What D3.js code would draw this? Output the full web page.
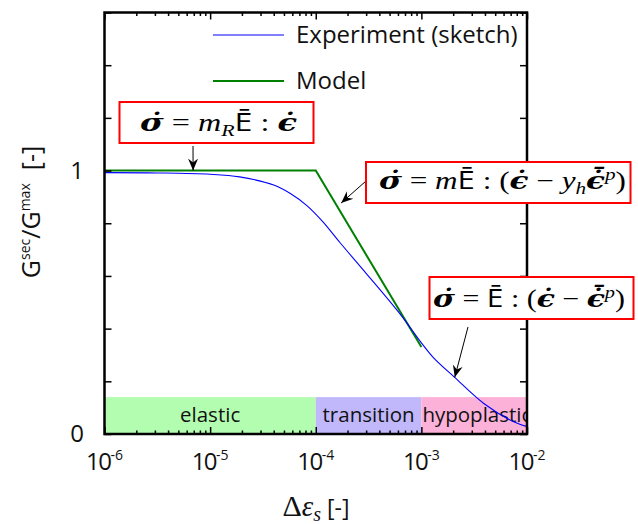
<!DOCTYPE html>
<html>
<head>
<meta charset="utf-8">
<script src="https://cdn.jsdelivr.net/npm/d3@7"></script>
<style>
  body { margin: 0; background: #fff; }
  text { white-space: pre; }
</style>
</head>
<body>
<script>
// axis ticks
var xMajor = [1e-6, 1e-5, 1e-4, 1e-3, 1e-2];
var xLabels = ["-6", "-5", "-4", "-3", "-2"];
var yTicks = [0, 0.2, 0.4, 0.6, 0.8, 1, 1.2, 1.4, 1.6];
var yLabels = [0, 1];

// experiment (sketch)
var expStrain = [1e-6, 3.16e-6, 1e-5, 1.9e-5, 4.0e-5, 5.75e-5, 8.3e-5, 1.17e-4, 1.7e-4, 3.0e-4, 6.3e-4, 1e-3, 1.32e-3, 2.04e-3, 3.9e-3, 7.4e-3, 1e-2];
var expRatio  = [0.992, 0.991, 0.986, 0.976, 0.945, 0.913, 0.866, 0.805, 0.726, 0.61, 0.455, 0.346, 0.287, 0.217, 0.116, 0.047, 0.028];

// model
var modelStrain = [1e-6, 1e-4, 1e-3];
var modelRatio  = [1, 1, 0.33];

// regions
var regionNames = ["elastic", "transition", "hypoplastic"];
var regionStart = [1e-6, 1e-4, 1e-3];
var regionEnd   = [1e-4, 1e-3, 1e-2];
var regionColors = ["#b3fdb0", "#c1b8fc", "#fcb1d9"];
var regionTop = 0.14;

var W = 638, H = 524;
var pLeft = 104.5, pRight = 527, pTop = 12.5, pBottom = 434;

var svg = d3.select("body").append("svg")
    .attr("width", W).attr("height", H);

var x = d3.scaleLog().domain([1e-6, 1e-2]).range([pLeft, pRight]);
var y = d3.scaleLinear().domain([0, 1.6]).range([pBottom, pTop]);

var sans = "'Open Sans', 'DejaVu Sans', sans-serif";
var serif = "'Liberation Serif', 'DejaVu Serif', serif";
var greek = "'DejaVu Serif', serif";

var defs = svg.append("defs");
defs.append("clipPath").attr("id", "plot")
  .append("rect").attr("x", pLeft).attr("y", pTop)
  .attr("width", pRight - pLeft).attr("height", pBottom - pTop);

// region bands
var bands = svg.append("g").attr("clip-path", "url(#plot)");
regionNames.forEach(function(name, i) {
  bands.append("rect")
    .attr("x", x(regionStart[i]))
    .attr("y", y(regionTop))
    .attr("width", x(regionEnd[i]) - x(regionStart[i]))
    .attr("height", y(0) - y(regionTop))
    .attr("fill", regionColors[i]);
});
regionNames.forEach(function(name, i) {
  var x0 = x(regionStart[i]), x1 = x(regionEnd[i]);
  var tx = i == 2 ? x0 + 1 : (x0 + x1) / 2;
  bands.append("text")
    .attr("x", tx)
    .attr("y", y(regionTop / 2) + 6)
    .attr("text-anchor", i == 2 ? "start" : "middle")
    .style("font-family", sans).style("font-size", "20.5px")
    .attr("fill", "#111")
    .text(name);
});

// lines
var line = d3.line()
    .x(function(d) { return x(d[0]); })
    .y(function(d) { return y(d[1]); });

svg.append("path")
  .datum(modelStrain.map(function(s, i) { return [s, modelRatio[i]]; }))
  .attr("d", line)
  .attr("fill", "none").attr("stroke", "#008000").attr("stroke-width", 2);

svg.append("path")
  .datum(expStrain.map(function(s, i) { return [s, expRatio[i]]; }))
  .attr("d", line.curve(d3.curveCatmullRom.alpha(0.5)))
  .attr("fill", "none").attr("stroke", "#0000ff").attr("stroke-width", 1.1);

// axes (ticks point inward)
var minor = [];
xMajor.slice(0, -1).forEach(function(d) {
  for (var k = 2; k < 10; k++) minor.push(d * k);
});

function axisGroup(axis, tx, ty) {
  var g = svg.append("g").attr("transform", "translate(" + tx + "," + ty + ")").call(axis);
  g.select(".domain").remove();
  g.selectAll("line").attr("stroke", "#000").attr("stroke-width", 1.5);
  g.selectAll("text").remove();
  return g;
}
axisGroup(d3.axisBottom(x).tickValues(xMajor).tickSize(-7).tickFormat(""), 0, pBottom);
axisGroup(d3.axisBottom(x).tickValues(minor).tickSize(-3.5).tickFormat(""), 0, pBottom);
axisGroup(d3.axisTop(x).tickValues(xMajor).tickSize(-7).tickFormat(""), 0, pTop);
axisGroup(d3.axisTop(x).tickValues(minor).tickSize(-3.5).tickFormat(""), 0, pTop);
axisGroup(d3.axisLeft(y).tickValues(yTicks).tickSize(-7).tickFormat(""), pLeft, 0);
axisGroup(d3.axisRight(y).tickValues(yTicks).tickSize(-7).tickFormat(""), pRight, 0);

svg.append("rect")
  .attr("x", pLeft).attr("y", pTop)
  .attr("width", pRight - pLeft).attr("height", pBottom - pTop)
  .attr("fill", "none").attr("stroke", "#000").attr("stroke-width", 2.5);

// tick labels
xMajor.forEach(function(d, i) {
  var t = svg.append("text")
    .attr("x", x(d)).attr("y", 470)
    .attr("text-anchor", "middle")
    .style("font-family", sans).style("font-size", "24px")
    .attr("fill", "#111");
  t.append("tspan").attr("letter-spacing", -1.5).text("10");
  t.append("tspan").attr("dy", -10).style("font-size", "14px").text(xLabels[i]);
});
yLabels.forEach(function(d) {
  svg.append("text")
    .attr("x", 84).attr("y", y(d) + 8)
    .attr("text-anchor", "end")
    .style("font-family", sans).style("font-size", "24px")
    .attr("fill", "#111")
    .text(d);
});

// axis titles
var yt = svg.append("text")
  .attr("transform", "translate(40," + 212 + ") rotate(-90)")
  .attr("text-anchor", "middle")
  .style("font-family", sans).style("font-size", "25px")
  .attr("fill", "#111");
yt.append("tspan").text("G");
yt.append("tspan").attr("dy", -10).style("font-size", "14px").text("sec");
yt.append("tspan").attr("dy", 10).text("/G");
yt.append("tspan").attr("dy", -10).style("font-size", "14px").text("max");
yt.append("tspan").attr("dy", 10).text("  [-]");

var xt = svg.append("text")
  .attr("x", 316).attr("y", 516)
  .attr("text-anchor", "middle")
  .attr("fill", "#111");
xt.append("tspan").style("font-family", serif).style("font-size", "30px").text("Δ");
xt.append("tspan").style("font-family", serif).style("font-style", "italic").style("font-size", "29px").text("ε");
xt.append("tspan").attr("dy", 5).style("font-family", serif).style("font-style", "italic").style("font-size", "20px").text("s");
xt.append("tspan").attr("dy", -5).style("font-family", sans).style("font-size", "23px").text(" [-]");

// legend
var legend = [
  { label: "Experiment (sketch)", color: "#0000ff", w: 1.1, y: 35 },
  { label: "Model", color: "#008000", w: 2, y: 81 }
];
legend.forEach(function(d) {
  svg.append("line")
    .attr("x1", 213).attr("x2", 284).attr("y1", d.y).attr("y2", d.y)
    .attr("stroke", d.color).attr("stroke-width", d.w);
  svg.append("text")
    .attr("x", 296).attr("y", d.y + 8)
    .style("font-family", sans).style("font-size", "24px")
    .attr("fill", "#111")
    .text(d.label);
});

// annotations
var DOT = "\u0307", BAR = "\u0304";
var sig = { t: "σ" + DOT, f: greek, s: "italic", w: "bold" };
var eps = { t: "ϵ" + DOT, f: greek, s: "italic", w: "bold" };
var epsBar = { t: "ϵ" + DOT + BAR, f: greek, s: "italic", w: "bold" };
function op(t) { return { t: t, f: serif }; }
function it(t) { return { t: t, f: serif, s: "italic" }; }
function sub(t) { return { t: t, f: serif, s: "italic", sz: 17, dy: 5 }; }
function sup(t) { return { t: t, f: serif, s: "italic", sz: 17, dy: -9 }; }
var Ebar = { t: "Ē", f: sans };

var boxes = [
  { x0: 119.5, y0: 102, x1: 313.5, y1: 143, tx: 140, ty: 131, len: 157,
    parts: [sig, op(" = "), it("m"), sub("R"), Ebar, op(" : "), eps],
    tip: [6.9e-6, 1.0], tail: [193, 146] },
  { x0: 366, y0: 162, x1: 630.5, y1: 203, tx: 379, ty: 189, len: 247,
    parts: [sig, op(" = "), it("m"), Ebar, op(" : ("), eps, op(" − "), it("y"), sub("h"), epsBar, sup("p"), op(")")],
    tip: [1.74e-4, 0.877], tail: [366, 181] },
  { x0: 429.5, y0: 277, x1: 633.5, y1: 319, tx: 433, ty: 307, len: 192,
    parts: [sig, op(" = "), Ebar, op(" : ("), eps, op(" − "), epsBar, sup("p"), op(")")],
    tip: [2.07e-3, 0.215], tail: [468, 327] }
];

defs.append("marker")
  .attr("id", "head").attr("viewBox", "-12 -6 14 12")
  .attr("refX", 0).attr("refY", 0)
  .attr("markerWidth", 14).attr("markerHeight", 12)
  .attr("markerUnits", "userSpaceOnUse")
  .attr("orient", "auto")
  .append("path").attr("d", "M0,0 L-12,-5 L-8,0 L-12,5 Z").attr("fill", "#000");

boxes.forEach(function(b) {
  svg.append("line")
    .attr("x1", b.tail[0]).attr("y1", b.tail[1])
    .attr("x2", x(b.tip[0])).attr("y2", y(b.tip[1]))
    .attr("stroke", "#000").attr("stroke-width", 1)
    .attr("marker-end", "url(#head)");
  svg.append("rect")
    .attr("x", b.x0).attr("y", b.y0)
    .attr("width", b.x1 - b.x0).attr("height", b.y1 - b.y0)
    .attr("fill", "#fff").attr("stroke", "#f00").attr("stroke-width", 2);
  var t = svg.append("text")
    .attr("x", b.tx).attr("y", b.ty)
    .attr("textLength", b.len).attr("lengthAdjust", "spacingAndGlyphs")
    .style("font-size", "25px").attr("fill", "#000");
  var shift = 0;
  b.parts.forEach(function(p) {
    var s = t.append("tspan").text(p.t).style("font-family", p.f);
    if (p.s) s.style("font-style", p.s);
    if (p.w) s.style("font-weight", p.w);
    if (p.sz) s.style("font-size", p.sz + "px");
    var dy = (p.dy || 0) - shift;
    if (dy) s.attr("dy", dy);
    shift = p.dy || 0;
  });
});
</script>
</body>
</html>
